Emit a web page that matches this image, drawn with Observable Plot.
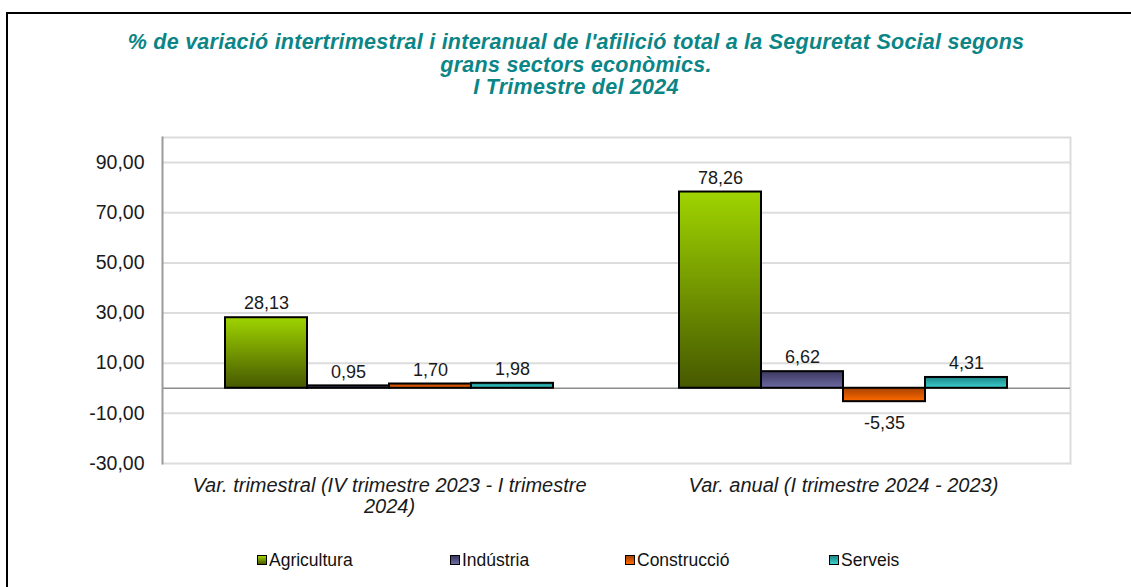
<!DOCTYPE html>
<html>
<head>
<meta charset="utf-8">
<script src="https://cdn.jsdelivr.net/npm/d3@7"></script>
<script src="https://cdn.jsdelivr.net/npm/@observablehq/plot@0.6"></script>
<style>
  html, body { margin: 0; padding: 0; background: #fff; }
  body { width: 1131px; height: 587px; position: relative; overflow: hidden; font-family: "Liberation Sans", Arial, sans-serif; }
  #border { position: absolute; left: 6px; top: 12px; width: 1200px; height: 700px; border-top: 2px solid #000; border-left: 2px solid #000; }
  #title { position: absolute; left: 0; top: 31px; width: 1152px; text-align: center; color: #0b8586; font-weight: bold; font-style: italic; font-size: 21.5px; letter-spacing: 0.25px; line-height: 22.5px; }
  #chart { position: absolute; left: 0; top: 120px; }
  #legend { position: absolute; top: 550px; left: 0; width: 1131px; height: 20px; font-size: 17.5px; color: #111; }
  .item { position: absolute; top: 0; display: flex; align-items: center; height: 20px; }
  .sw { width: 8px; height: 8px; border: 1px solid #000; margin-right: 2px; }
</style>
</head>
<body>
<div id="border"></div>
<div id="title"></div>
<div id="chart"></div>
<div id="legend"></div>
<script>
// ---- data ----
const titleLines = [
  "% de variació intertrimestral i interanual de l'afilició total a la Seguretat Social segons",
  "grans sectors econòmics.",
  "I Trimestre del 2024"
];
const periods = [
  "Var. trimestral (IV trimestre 2023 - I trimestre 2024)",
  "Var. anual (I trimestre 2024 - 2023)"
];
const periodLabels = [
  "Var. trimestral (IV trimestre 2023 - I trimestre\n2024)",
  "Var. anual (I trimestre 2024 - 2023)"
];
const sectors = ["Agricultura", "Indústria", "Construcció", "Serveis"];
const trimestral = [28.13, 0.95, 1.70, 1.98];
const anual = [78.26, 6.62, -5.35, 4.31];
const yTicks = [-30, -10, 10, 30, 50, 70, 90];
const gradients = {
  "Agricultura": ["#9fd400", "#465800"],
  "Indústria": ["#3b3860", "#6d6aa2"],
  "Construcció": ["#a84200", "#ff6a00"],
  "Serveis": ["#1a8686", "#3fcfcf"]
};
const gradId = {"Agricultura": "gA", "Indústria": "gI", "Construcció": "gC", "Serveis": "gS"};

// ---- table ----
const data = [];
[trimestral, anual].forEach((vals, pi) => {
  vals.forEach((v, si) => data.push({period: periods[pi], sector: sectors[si], value: v}));
});
const fmt = v => v.toFixed(2).replace(".", ",");

document.getElementById("title").innerHTML = titleLines.join("<br>");

const font = "Liberation Sans, Arial, sans-serif";
const plot = Plot.plot({
  width: 1131,
  height: 400,
  marginLeft: 161,
  marginRight: 61,
  marginTop: 17,
  marginBottom: 57,
  style: {fontFamily: font, color: "#1a1a1a", background: "transparent"},
  fx: {domain: periods, padding: 0, axis: null, label: null},
  x: {domain: sectors, paddingInner: 0, paddingOuter: 0.74, axis: null},
  y: {domain: [-30, 100], axis: null},
  color: {type: "identity"},
  marks: [
    Plot.ruleY(yTicks, {stroke: "#dcdcdc", strokeWidth: 2}),
    Plot.ruleY([100], {stroke: "#dcdcdc", strokeWidth: 2}),
    Plot.frame({anchor: "right", stroke: "#dcdcdc", strokeWidth: 2, fx: () => periods[1]}),
    Plot.ruleY([0], {stroke: "#8c8c8c", strokeWidth: 1.6}),
    Plot.frame({anchor: "left", stroke: "#9a9a9a", strokeWidth: 2, fx: () => periods[0]}),
    Plot.axisY({ticks: yTicks, tickFormat: fmt, tickSize: 0, tickPadding: 18, fontSize: 19.5, label: null}),
    Plot.barY(data, {fx: "period", x: "sector", y: "value",
      fill: d => `url(#${gradId[d.sector]})`, stroke: "#000", strokeWidth: 2}),
    Plot.text(data.filter(d => d.value >= 0), {fx: "period", x: "sector", y: "value",
      text: d => fmt(d.value), dy: -14, fontSize: 18, fill: "#1a1a1a"}),
    Plot.text(data.filter(d => d.value < 0), {fx: "period", x: "sector", y: "value",
      text: d => fmt(d.value), dy: 22, fontSize: 18, fill: "#1a1a1a"}),
    Plot.text(periods, {fx: d => d, text: (d, i) => periodLabels[i], frameAnchor: "bottom",
      lineAnchor: "top", dy: 13, lineHeight: 1.08, fontSize: 20, fontStyle: "italic", fill: "#1a1a1a"})
  ]
});

// gradient defs
const ns = "http://www.w3.org/2000/svg";
const defs = document.createElementNS(ns, "defs");
for (const s of sectors) {
  const lg = document.createElementNS(ns, "linearGradient");
  lg.setAttribute("id", gradId[s]);
  lg.setAttribute("x1", "0"); lg.setAttribute("y1", "0");
  lg.setAttribute("x2", "0"); lg.setAttribute("y2", "1");
  gradients[s].forEach((c, k) => {
    const st = document.createElementNS(ns, "stop");
    st.setAttribute("offset", k === 0 ? "0" : "1");
    st.setAttribute("stop-color", c);
    lg.appendChild(st);
  });
  defs.appendChild(lg);
}
plot.insertBefore(defs, plot.firstChild);
document.getElementById("chart").appendChild(plot);

// legend
const legendX = [257, 450, 625, 829];
const legend = document.getElementById("legend");
sectors.forEach((s, i) => {
  const it = document.createElement("div");
  it.className = "item";
  it.style.left = legendX[i] + "px";
  const sw = document.createElement("div");
  sw.className = "sw";
  sw.style.background = `linear-gradient(${gradients[s][0]}, ${gradients[s][1]})`;
  it.appendChild(sw);
  const t = document.createElement("span");
  t.textContent = s;
  it.appendChild(t);
  legend.appendChild(it);
});
</script>
</body>
</html>
